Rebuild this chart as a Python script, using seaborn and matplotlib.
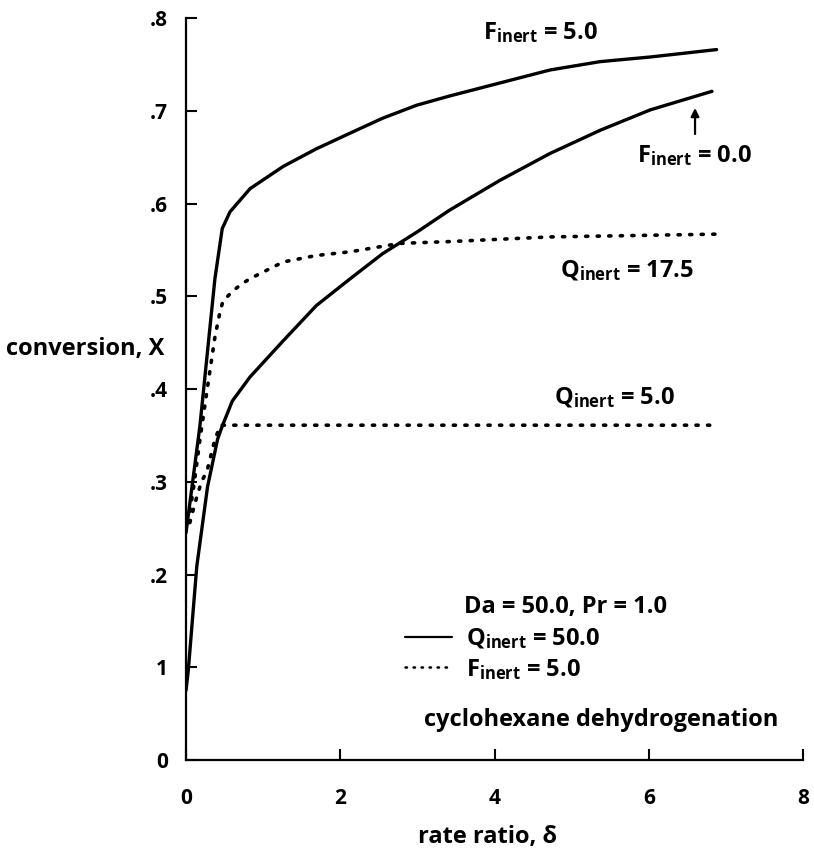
import matplotlib
matplotlib.use("Agg")
import matplotlib.pyplot as plt
from matplotlib.lines import Line2D
import seaborn as sns
import numpy as np

# ---- data ----
# F_inert = 5.0, Q_inert = 50.0 (solid, upper)
xA = [0.0, 0.18, 0.375, 0.47, 0.57, 0.83, 1.26, 1.69, 2.13, 2.55, 2.99, 3.42, 4.07, 4.72, 5.37, 6.02, 6.88]
yA = [0.245, 0.36, 0.519, 0.573, 0.591, 0.616, 0.640, 0.659, 0.676, 0.692, 0.706, 0.716, 0.730, 0.744, 0.753, 0.758, 0.766]
# F_inert = 0.0, Q_inert = 50.0 (solid, lower)
xB = [0.0, 0.03, 0.14, 0.28, 0.41, 0.47, 0.6, 0.83, 1.26, 1.69, 2.13, 2.55, 2.99, 3.42, 4.07, 4.72, 5.37, 6.02, 6.82]
yB = [0.075, 0.097, 0.209, 0.295, 0.346, 0.360, 0.387, 0.413, 0.452, 0.490, 0.519, 0.546, 0.569, 0.593, 0.625, 0.654, 0.679, 0.701, 0.721]
# Q_inert = 17.5, F_inert = 5.0 (dotted, upper)
xC = [0.03, 0.10, 0.18, 0.27, 0.375, 0.44, 0.48, 0.6, 0.7, 0.83, 1.26, 1.69, 2.13, 2.77, 3.42, 4.72, 6.88]
yC = [0.256, 0.295, 0.345, 0.397, 0.456, 0.483, 0.495, 0.505, 0.512, 0.519, 0.537, 0.544, 0.548, 0.557, 0.559, 0.564, 0.567]
# Q_inert = 5.0, F_inert = 5.0 (dotted, lower)
xD = [0.05, 0.12, 0.2, 0.27, 0.31, 0.375, 0.45, 1.0, 2.0, 4.0, 6.88]
yD = [0.256, 0.278, 0.30, 0.311, 0.324, 0.346, 0.361, 0.361, 0.361, 0.361, 0.361]

xticks = [0, 2, 4, 6, 8]
xticklabels = ["0", "2", "4", "6", "8"]
yticks = [0, 0.1, 0.2, 0.3, 0.4, 0.5, 0.6, 0.7, 0.8]
yticklabels = ["0", "1", ".2", ".3", ".4", ".5", ".6", ".7", ".8"]

# ---- style ----
sns.set_style("ticks")
plt.rcParams["font.family"] = ["Open Sans", "DejaVu Sans"]
plt.rcParams["font.weight"] = "bold"
plt.rcParams["text.color"] = "black"
plt.rcParams["mathtext.fontset"] = "custom"
plt.rcParams["mathtext.rm"] = "Open Sans:bold"
plt.rcParams["mathtext.it"] = "Open Sans:bold"
plt.rcParams["mathtext.bf"] = "Open Sans:bold"
plt.rcParams["mathtext.default"] = "rm"

fig = plt.figure(figsize=(8.14, 8.51), dpi=100)
ax = fig.add_axes([0.2285, 0.1069, 0.7580, 0.8719])

solid_kw = dict(color="black", linewidth=2.4, solid_joinstyle="round", solid_capstyle="round")
dot_kw = dict(color="black", linewidth=2.6, linestyle=(0, (0.6, 2.6)), dash_capstyle="round")

sns.lineplot(x=xA, y=yA, ax=ax, sort=False, estimator=None, **solid_kw)
sns.lineplot(x=xB, y=yB, ax=ax, sort=False, estimator=None, **solid_kw)
sns.lineplot(x=xC, y=yC, ax=ax, sort=False, estimator=None, **dot_kw)
sns.lineplot(x=xD, y=yD, ax=ax, sort=False, estimator=None, **dot_kw)

ax.set_xlim(0, 8)
ax.set_ylim(0, 0.8)
ax.set_xticks(xticks)
ax.set_xticklabels(xticklabels)
ax.set_yticks(yticks)
ax.set_yticklabels(yticklabels)
for s in ["top", "right"]:
    ax.spines[s].set_visible(False)
for s in ["left", "bottom"]:
    ax.spines[s].set_linewidth(1.6)
    ax.spines[s].set_color("black")
ax.tick_params(axis="both", direction="in", length=8, width=1.5, color="black",
               labelsize=15, labelcolor="black")
ax.tick_params(axis="x", pad=20)
ax.tick_params(axis="y", pad=13)

ax.set_xlabel("rate ratio, δ", fontsize=17, fontweight="bold", color="black")
ax.xaxis.set_label_coords(0.488, -0.088)
ax.set_ylabel("conversion, X", fontsize=17, fontweight="bold", rotation=0,
              ha="center", va="center", color="black")
ax.yaxis.set_label_coords(-0.163, 0.554)

tk = dict(fontsize=17, fontweight="bold", color="black", ha="center", va="center")
ax.text(4.6, 0.784, r"F$_{inert}$ = 5.0", **tk)
ax.text(6.59, 0.652, r"F$_{inert}$ = 0.0", **tk)
ax.annotate("", xy=(6.6, 0.706), xytext=(6.6, 0.672),
            arrowprops=dict(arrowstyle="-|>", color="black", lw=1.6, mutation_scale=12))
ax.text(5.72, 0.528, r"Q$_{inert}$ = 17.5", **tk)
ax.text(5.56, 0.391, r"Q$_{inert}$ = 5.0", **tk)
ax.text(4.92, 0.165, "Da = 50.0, Pr = 1.0", **tk)
ax.text(5.38, 0.043, "cyclohexane dehydrogenation", **tk)

handles = [Line2D([], [], color="black", linewidth=1.6),
           Line2D([], [], color="black", linewidth=1.8, linestyle=(0, (0.6, 2.6)), dash_capstyle="round")]
labels = [r"Q$_{inert}$ = 50.0", r"F$_{inert}$ = 5.0"]
leg = ax.legend(handles, labels, loc="center left", bbox_to_anchor=(0.355, 0.143),
                frameon=False, fontsize=17, handlelength=2.0, handletextpad=0.6,
                labelspacing=0.25, borderaxespad=0, borderpad=0, labelcolor="black")

fig.savefig("out.png", dpi=100, facecolor="white")
